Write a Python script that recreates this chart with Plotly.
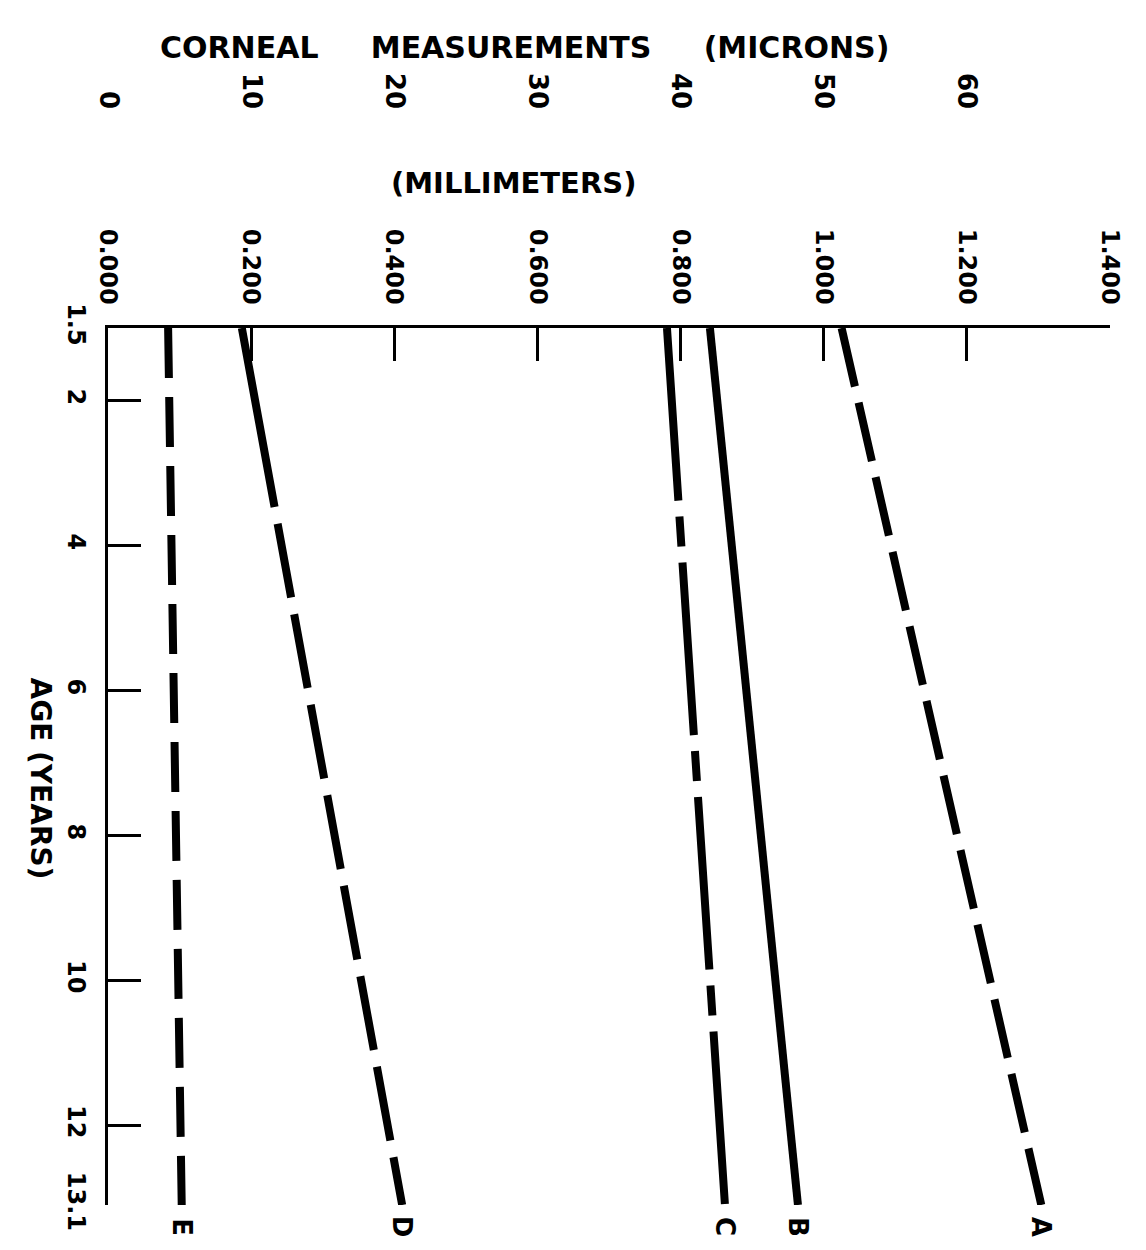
import plotly.graph_objects as go

# Age (years) at the two ends of each fitted line
ages = [1.5, 13.1]

# Corneal measurements (millimeters) at those ages
series_names = ["A", "B", "C", "D", "E"]
a_mm = [1.025, 1.304]
b_mm = [0.841, 0.964]
c_mm = [0.781, 0.862]
d_mm = [0.187, 0.411]
e_mm = [0.084, 0.103]

# Axis ticks
mm_ticks = [0.0, 0.2, 0.4, 0.6, 0.8, 1.0, 1.2, 1.4]
mm_labels = ["0.000", "0.200", "0.400", "0.600", "0.800", "1.000", "1.200", "1.400"]
micron_ticks = [0, 10, 20, 30, 40, 50, 60]
micron_labels = ["0", "10", "20", "30", "40", "50", "60"]
age_ticks = [1.5, 2, 4, 6, 8, 10, 12, 13.1]
age_labels = ["1.5", "2", "4", "6", "8", "10", "12", "13.1"]

# The age axis is broken: the first half-year (1.5 -> 2) is stretched
AGE_START, AGE_BREAK, AXIS_TOP = 1.5, 2.0, 1.0


def age_pos(a):
    if a >= AGE_BREAK:
        return a
    return AGE_BREAK - (AGE_BREAK - a) * (AGE_BREAK - AXIS_TOP) / (AGE_BREAK - AGE_START)


FONT = "DejaVu Sans"
W, H = 1146, 1250
ML, MR, MT, MB = 108, 36, 328, 45


def bold(size):
    return dict(family=FONT, size=size, color="black", weight="bold")


# dash patterns for the five curves
d_dash = "182px,17px," + ",".join(["75px,17px"] * 8)
styles = {
    "A": dict(dash="60px,16.5px"),
    "B": dict(dash="solid"),
    "C": dict(dash="173px,16px,30px,16px"),
    "D": dict(dash=d_dash),
    "E": dict(dash="50px,19px"),
}
values = {"A": a_mm, "B": b_mm, "C": c_mm, "D": d_mm, "E": e_mm}

fig = go.Figure()
ypos = [age_pos(a) for a in ages]
for name in series_names:
    fig.add_trace(go.Scatter(
        x=values[name], y=ypos, mode="lines", name=name,
        line=dict(color="black", width=8, dash=styles[name]["dash"]),
        showlegend=False, hoverinfo="skip",
    ))
    # curve letter below the end of each line
    fig.add_annotation(
        x=values[name][-1], y=age_pos(ages[-1]), xref="x", yref="y",
        text=name, showarrow=False, textangle=90, yshift=-22,
        font=bold(26),
    )

# invisible trace to activate the micron axis
fig.add_trace(go.Scatter(x=[0, 70], y=[age_pos(13.1)] * 2, xaxis="x2",
                         mode="markers", marker=dict(opacity=0),
                         showlegend=False, hoverinfo="skip"))

fig.update_layout(
    width=W, height=H,
    margin=dict(l=ML, r=MR, t=MT, b=MB),
    paper_bgcolor="white", plot_bgcolor="white",
    font=dict(family=FONT, color="black"),
    xaxis=dict(
        side="top", range=[0, 1.4], showgrid=False, zeroline=False,
        showline=True, linecolor="black", linewidth=3,
        ticks="inside", ticklen=33, tickwidth=2.5, tickcolor="black",
        tickvals=mm_ticks, ticktext=mm_labels, tickangle=90,
        ticklabelstandoff=12,
        tickfont=bold(24),
    ),
    xaxis2=dict(
        overlaying="x", side="top", range=[0, 70], showgrid=False,
        zeroline=False, showline=False, ticks="",
        tickvals=micron_ticks, ticktext=micron_labels, tickangle=90,
        ticklabelstandoff=214,
        tickfont=bold(26),
    ),
    yaxis=dict(
        range=[age_pos(13.1), age_pos(1.5)], showgrid=False, zeroline=False,
        showline=True, linecolor="black", linewidth=3,
        ticks="inside", ticklen=33, tickwidth=2.5, tickcolor="black",
        tickvals=[age_pos(a) for a in age_ticks], ticktext=age_labels,
        tickangle=90, ticklabelstandoff=8,
        tickfont=bold(24),
    ),
)

plot_w = W - ML - MR
plot_h = H - MT - MB


def px_to_paper(px, py):
    return (px - ML) / plot_w, (H - MB - py) / plot_h


sp = "\u00a0" * 5
tx, ty = px_to_paper(524, 28)
fig.add_annotation(
    x=tx, y=ty, xref="paper", yref="paper", showarrow=False,
    text="CORNEAL" + sp + "MEASUREMENTS" + sp + "(MICRONS)",
    font=bold(30),
)
mx, my = px_to_paper(513, 164)
fig.add_annotation(
    x=mx, y=my, xref="paper", yref="paper", showarrow=False,
    text="(MILLIMETERS)",
    font=bold(29),
)
ax_, ay_ = px_to_paper(22, 778)
fig.add_annotation(
    x=ax_, y=ay_, xref="paper", yref="paper", showarrow=False,
    text="AGE (YEARS)", textangle=90,
    font=bold(28),
)

fig.write_html("out.html")
